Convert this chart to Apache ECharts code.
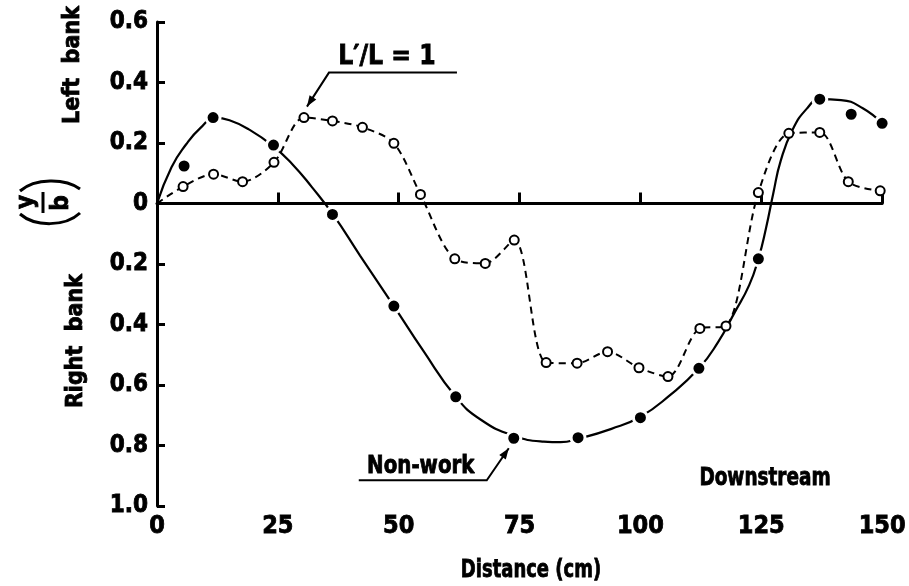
<!DOCTYPE html>
<html>
<head>
<meta charset="utf-8">
<script src="https://cdn.jsdelivr.net/npm/echarts@6/dist/echarts.min.js"></script>
<style>
  html, body { margin: 0; padding: 0; background: #fff; }
  #chart { width: 909px; height: 586px; }
</style>
</head>
<body>
<div id="chart"></div>
<script>
// Lateral position y/b along the channel (positive = left bank, negative = right bank)
const xTickLabels = ['0', '25', '50', '75', '100', '125', '150'];
const yTickLabels = ['1.0', '0.8', '0.6', '0.4', '0.2', '0', '0.2', '0.4', '0.6'];

// L'/L = 1 measurements (open circles, dashed line); first entry is the origin
const openX = [0, 5.4, 11.7, 17.7, 24.2, 30.4, 36.3, 42.5, 49.0, 54.5, 61.6, 67.9, 73.9,
               80.5, 86.9, 93.2, 99.7, 105.7, 112.3, 117.7, 124.4, 130.7, 137.1, 143.0, 149.6];
const openY = [0, 0.056, 0.097, 0.072, 0.136, 0.284, 0.273, 0.252, 0.199, 0.030, -0.183, -0.198, -0.121,
               -0.526, -0.528, -0.490, -0.543, -0.572, -0.413, -0.405, 0.036, 0.232, 0.235, 0.072, 0.042];

// Non-work measurements (filled circles)
const filledX = [5.6, 11.6, 24.1, 36.3, 49.0, 61.8, 73.8, 87.1, 100.0, 112.1, 124.4, 137.1, 143.6, 150.0];
const filledY = [0.124, 0.284, 0.193, -0.036, -0.339, -0.639, -0.776, -0.774, -0.708, -0.545, -0.183, 0.345, 0.295, 0.265];

// Fitted non-work curve (solid line)
const curveX = [0, 3, 6, 9, 12, 15, 19, 24, 28, 32, 36.4, 42, 49, 55, 61.8, 67, 73.8, 80, 83.5, 87.1,
                94, 100, 106, 112.1, 116, 119.5, 122.5, 124.4, 126, 127.5, 129, 131.5, 134.5, 137.1, 141.5, 146, 150];
const curveY = [0, 0.12, 0.195, 0.25, 0.283, 0.275, 0.245, 0.19, 0.13, 0.055, -0.036, -0.172, -0.339, -0.485, -0.639, -0.715, -0.768, -0.787, -0.789, -0.778,
                -0.745, -0.705, -0.635, -0.545, -0.46, -0.36, -0.27, -0.183, -0.08, 0.035, 0.14, 0.245, 0.315, 0.345, 0.342, 0.315, 0.265];

const FONT = "'Liberation Sans Narrow', 'DejaVu Sans Condensed', 'Arial Narrow', sans-serif";

const pairs = (xs, ys) => xs.map((x, i) => [x, ys[i]]);

const chart = echarts.init(document.getElementById('chart'), null, { renderer: 'canvas' });

const labelStyle = {
  fontFamily: FONT, fontWeight: 'bold', color: '#000',
  textBorderColor: '#000', textBorderWidth: 0.8
};

const option = {
  animation: false,
  backgroundColor: '#fff',
  grid: { left: 157, right: 21, top: 22, bottom: 80 },
  xAxis: {
    type: 'value',
    min: 0, max: 150, interval: 25,
    axisLine: { show: true, lineStyle: { color: '#000', width: 3 } },
    axisTick: { show: true, inside: true, length: 11, lineStyle: { color: '#000', width: 3 } },
    axisLabel: Object.assign({ fontSize: 25, margin: 8, formatter: (v, i) => xTickLabels[i] }, labelStyle),
    splitLine: { show: false }
  },
  yAxis: {
    type: 'value',
    min: -1.0, max: 0.6, interval: 0.2,
    axisLine: { show: true, lineStyle: { color: '#000', width: 3 } },
    axisTick: { show: true, inside: true, length: 8, lineStyle: { color: '#000', width: 3 } },
    axisLabel: Object.assign({ fontSize: 24, margin: 9, formatter: (v, i) => yTickLabels[i] }, labelStyle),
    splitLine: { show: false }
  },
  series: [
    {
      name: 'Non-work curve',
      type: 'line',
      data: pairs(curveX, curveY),
      smooth: 0.5,
      showSymbol: false,
      lineStyle: { color: '#000', width: 2.2 },
      z: 2,
      markLine: {
        silent: true,
        symbol: 'none',
        label: { show: false },
        lineStyle: { color: '#000', width: 3, type: 'solid' },
        data: [{ yAxis: 0 }]
      }
    },
    {
      name: "L'/L = 1",
      type: 'line',
      data: pairs(openX, openY).map((p, i) => i === 0 ? { value: p, symbol: 'none' } : p),
      smooth: 0.3,
      symbol: 'circle',
      symbolSize: 9,
      showAllSymbol: true,
      lineStyle: { color: '#000', width: 2, type: [7, 5] },
      itemStyle: { color: '#fff', borderColor: '#000', borderWidth: 2 },
      z: 3
    },
    {
      name: 'Non-work',
      type: 'scatter',
      data: pairs(filledX, filledY),
      symbol: 'circle',
      symbolSize: 14,
      itemStyle: { color: '#000', borderColor: '#fff', borderWidth: 3, opacity: 1 },
      z: 4
    }
  ]
};

chart.setOption(option);

// Annotation arrows, anchored to the data points they point at
function arrowHead(tip, from, len, half) {
  const dx = tip[0] - from[0], dy = tip[1] - from[1];
  const d = Math.hypot(dx, dy);
  const ux = dx / d, uy = dy / d;
  const bx = tip[0] - ux * len, by = tip[1] - uy * len;
  return {
    type: 'polygon',
    shape: { points: [tip, [bx - uy * half, by + ux * half], [bx + uy * half, by - ux * half]] },
    style: { fill: '#000' }
  };
}
function txt(x, y, text, size, rot, sx) {
  return {
    type: 'text', x: x, y: y, rotation: rot || 0, scaleX: sx || 1,
    style: {
      text: text, font: 'bold ' + size + 'px ' + FONT, fill: '#000',
      stroke: '#000', lineWidth: 0.8,
      align: 'center', verticalAlign: 'middle'
    }
  };
}
function poly(points, w) {
  return { type: 'polyline', shape: { points: points }, style: { stroke: '#000', lineWidth: w || 2, fill: null } };
}

const tOpen = chart.convertToPixel({ gridIndex: 0 }, [openX[5], openY[5]]);
const tFill = chart.convertToPixel({ gridIndex: 0 }, [filledX[6], filledY[6]]);

const a1Tip = [tOpen[0] + 3, tOpen[1] - 11];
const a1Elbow = [tOpen[0] + 25, tOpen[1] - 45];
const a1End = [tOpen[0] + 153, tOpen[1] - 45];

const a2Tip = [tFill[0] - 5, tFill[1] + 10];
const a2Elbow = [tFill[0] - 27, tFill[1] + 42];
const a2End = [tFill[0] - 155, tFill[1] + 42];

chart.setOption({
  graphic: [
    // x-axis title
    txt(531, 570, 'Distance (cm)', 25, 0, 0.8),
    // L'/L = 1 callout
    txt(tOpen[0] + 83, tOpen[1] - 61, 'L\u2032/L = 1', 27, 0, 0.97),
    poly([a1End, a1Elbow, a1Tip], 2),
    arrowHead(a1Tip, a1Elbow, 11, 4),
    // Non-work callout
    txt(tFill[0] - 93, tFill[1] + 28, 'Non-work', 25, 0, 0.88),
    poly([a2End, a2Elbow, a2Tip], 2),
    arrowHead(a2Tip, a2Elbow, 11, 4),
    // flow direction note
    txt(765, 478, 'Downstream', 25, 0, 0.82),
    // y-axis labels
    txt(73, 65, 'Left  bank', 23, Math.PI / 2),
    txt(76, 341, 'Right  bank', 23, Math.PI / 2),
    // (y/b) with rotated fraction
    txt(27, 202, 'y', 24, Math.PI / 2),
    { type: 'line', shape: { x1: 43, y1: 192, x2: 43, y2: 213 }, style: { stroke: '#000', lineWidth: 3 } },
    txt(62, 203, 'b', 24, Math.PI / 2),
    { type: 'bezierCurve', shape: { x1: 20, y1: 191, cpx1: 35, cpy1: 178, cpx2: 65, cpy2: 178, x2: 80, y2: 189 },
      style: { stroke: '#000', lineWidth: 3, fill: null } },
    { type: 'bezierCurve', shape: { x1: 20, y1: 214, cpx1: 35, cpy1: 227, cpx2: 65, cpy2: 227, x2: 80, y2: 213 },
      style: { stroke: '#000', lineWidth: 3, fill: null } }
  ]
});
</script>
</body>
</html>
